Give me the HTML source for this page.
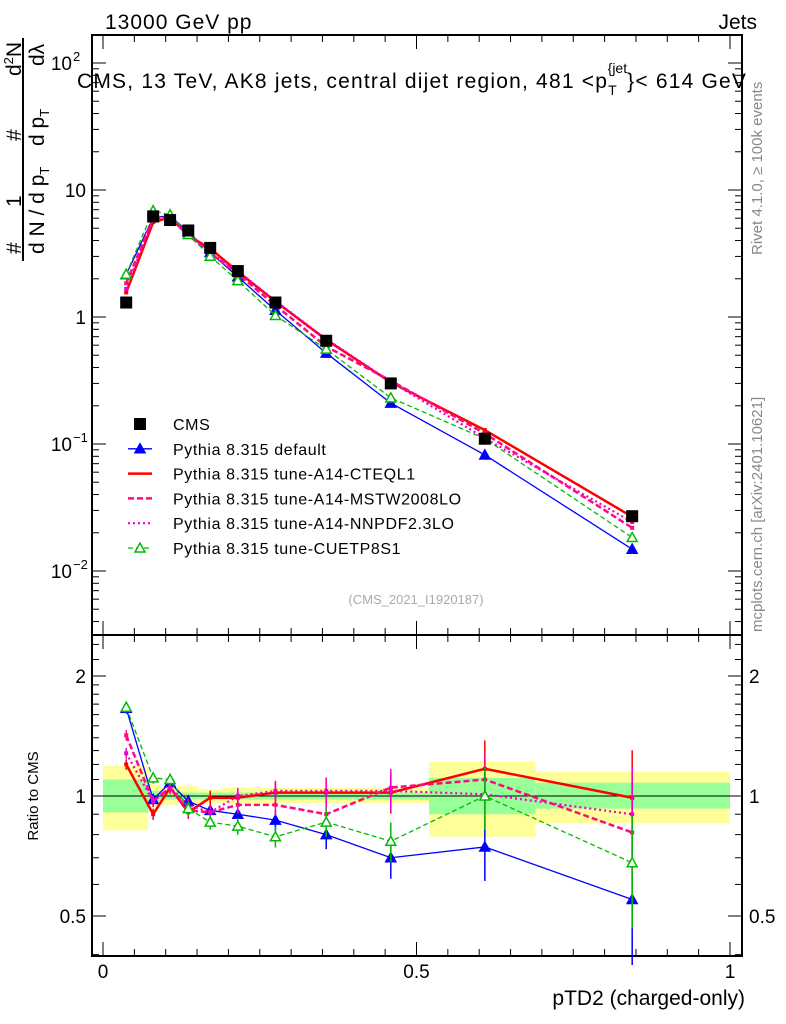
<!DOCTYPE html>
<html><head><meta charset="utf-8"><style>
body{margin:0;background:#fff}
svg{display:block;font-family:"Liberation Sans",sans-serif}
</style></head><body>
<svg id="chart" width="786" height="1024" viewBox="0 0 786 1024" xmlns="http://www.w3.org/2000/svg">
<g id="bandsG"></g>
<g id="axesG"></g>
<g id="seriesG"></g>
<text x="105" y="29" font-size="21" letter-spacing="1">13000 GeV pp</text>
<text x="757" y="29" font-size="21" text-anchor="end">Jets</text>
<text x="77" y="88" font-size="21" letter-spacing="1.2">CMS, 13 TeV, AK8 jets, central dijet region, 481 &lt;p<tspan font-size="14" dy="7" letter-spacing="0">T</tspan><tspan font-size="14" dy="-22" dx="-9" letter-spacing="0">{jet</tspan><tspan dy="15">}&lt; 614 GeV</tspan></text>
<g transform="rotate(-90)" font-size="21">
<text x="-254" y="21">#</text>
<text x="-207" y="21">1</text>
<text x="-254" y="44">d N / d p<tspan font-size="13" dy="5">T</tspan></text>
<text x="-141" y="21">#</text>
<text x="-146" y="44">d p<tspan font-size="13" dy="5">T</tspan></text>
<text x="-76" y="21">d<tspan font-size="13" dy="-8">2</tspan><tspan dy="8">N</tspan></text>
<text x="-66" y="44">dλ</text>
<line x1="-261" y1="23" x2="-38" y2="23" stroke="#000" stroke-width="2"/>
</g>
<text transform="translate(762,255) rotate(-90)" font-size="15" fill="#888">Rivet 4.1.0, ≥ 100k events</text>
<text transform="translate(762,632) rotate(-90)" font-size="15" fill="#888">mcplots.cern.ch [arXiv:2401.10621]</text>
<text x="416" y="604" font-size="13" fill="#aaa" text-anchor="middle">(CMS_2021_I1920187)</text>
<text transform="translate(38,796) rotate(-90)" font-size="15" text-anchor="middle">Ratio to CMS</text>
<text x="745" y="1005" font-size="21" text-anchor="end">pTD2 (charged-only)</text>
<g id="legendG"></g>
</svg>
<script>
var xCenters=[0.037,0.080,0.107,0.136,0.171,0.215,0.275,0.356,0.459,0.609,0.844];
var binEdges=[0,0.072,0.091,0.12,0.152,0.19,0.24,0.31,0.40,0.52,0.69,1.0];
var cmsValues=[1.3,6.2,5.8,4.8,3.5,2.3,1.3,0.65,0.3,0.11,0.027];
var statLo=[0.91,0.97,0.98,0.98,0.98,0.98,0.98,0.98,0.98,0.9,0.93];
var statHi=[1.1,1.03,1.02,1.02,1.02,1.02,1.02,1.02,1.02,1.11,1.08];
var totLo=[0.82,0.93,0.95,0.96,0.96,0.96,0.96,0.96,0.96,0.79,0.855];
var totHi=[1.19,1.07,1.05,1.06,1.04,1.05,1.05,1.05,1.05,1.22,1.15];
var ratioDefault=[1.66,0.98,1.08,0.97,0.92,0.9,0.87,0.8,0.7,0.745,0.55];
var ratioCTEQ=[1.2,0.9,1.05,0.91,0.99,0.99,1.02,1.02,1.02,1.17,0.99];
var ratioMSTW=[1.42,0.97,1.05,0.92,0.91,0.95,0.95,0.9,1.05,1.1,0.81];
var ratioNNPDF=[1.28,0.97,1.05,0.95,0.91,1.0,1.03,1.03,1.03,1.01,0.9];
var ratioCUETP=[1.67,1.11,1.1,0.93,0.86,0.84,0.79,0.86,0.77,1.0,0.68];
var xTicks=[0,0.5,1];
var xTickLabels=["0","0.5","1"];

var SVGNS="http://www.w3.org/2000/svg";
var PL=92,PR=742,PT=35,PMB=635,PRB=956;
function sx(v){return 103+v*627;}
function sy(v){return 317-127*Math.log10(v);}
function sr(v){return 796-120*Math.log(v)/Math.LN2;}
function mk(p,tag,a){var e=document.createElementNS(SVGNS,tag);for(var k in a)e.setAttribute(k,a[k]);p.appendChild(e);return e;}
var gB=document.getElementById('bandsG'),gA=document.getElementById('axesG'),gS=document.getElementById('seriesG'),gL=document.getElementById('legendG');

for(var i=0;i<cmsValues.length;i++){
 var x0=sx(binEdges[i]),x1=sx(binEdges[i+1]);
 var ry=mk(gB,'rect',{x:x0,y:sr(totHi[i]),width:x1-x0,height:sr(totLo[i])-sr(totHi[i]),fill:'#ffff99'});
 
 
 var rg=mk(gB,'rect',{x:x0,y:sr(statHi[i]),width:x1-x0,height:sr(statLo[i])-sr(statHi[i]),fill:'#99ff99'});
 
 
}
mk(gA,'line',{x1:PL,x2:PR,y1:sr(1),y2:sr(1),stroke:'#000','stroke-width':1});
mk(gA,'rect',{x:PL,y:PT,width:PR-PL,height:PMB-PT,fill:'none',stroke:'#000','stroke-width':2});
mk(gA,'rect',{x:PL,y:PMB,width:PR-PL,height:PRB-PMB,fill:'none',stroke:'#000','stroke-width':2});
for(var k=0;k<=20;k++){
 var xv=sx(k*0.05),len=(k%10==0)?14:7;
 [[PMB,PT],[PRB,PMB]].forEach(function(pr){
  mk(gA,'line',{x1:xv,x2:xv,y1:pr[0],y2:pr[0]-len,stroke:'#000'});
  mk(gA,'line',{x1:xv,x2:xv,y1:pr[1],y2:pr[1]+len,stroke:'#000'});
 });
}
xTicks.forEach(function(v,i){
 var t=mk(gA,'text',{x:sx(v),y:978,'font-size':19,'text-anchor':'middle'});t.textContent=xTickLabels[i];
 
 
});
for(var d=-3;d<=2;d++){for(var m=1;m<10;m++){
 var yv=sy(m*Math.pow(10,d));if(yv<PT||yv>PMB)continue;var ln=m==1?14:7;
 mk(gA,'line',{x1:PL,x2:PL+ln,y1:yv,y2:yv,stroke:'#000'});
 mk(gA,'line',{x1:PR,x2:PR-ln,y1:yv,y2:yv,stroke:'#000'});
}}
[[100,'10','2'],[10,'10',''],[1,'1',''],[0.1,'10','−1'],[0.01,'10','−2']].forEach(function(a){
 var t=mk(gA,'text',{x:a[2]?72:86,y:sy(a[0])+7,'font-size':19,'text-anchor':'end'});t.textContent=a[1];
 
 
 if(a[2]){var s=mk(gA,'text',{x:73,y:sy(a[0])-2,'font-size':13});s.textContent=a[2];}
});
var rticks=[];
for(var k2=4;k2<=20;k2++)rticks.push(k2/10);
for(var k3=22;k3<=26;k3+=2)rticks.push(k3/10);
rticks.forEach(function(v){
 var y=sr(v);if(y<PMB||y>PRB)return;
 var maj=Math.abs(v-0.5)<1e-6||Math.abs(v-1)<1e-6||Math.abs(v-2)<1e-6;var ln=maj?14:7;
 mk(gA,'line',{x1:PL,x2:PL+ln,y1:y,y2:y,stroke:'#000'});
 mk(gA,'line',{x1:PR,x2:PR-ln,y1:y,y2:y,stroke:'#000'});
});
[[2,'2'],[1,'1'],[0.5,'0.5']].forEach(function(a){
 var t=mk(gA,'text',{x:86,y:sr(a[0])+7,'font-size':19,'text-anchor':'end'});t.textContent=a[1];
 
 
 var t2=mk(gA,'text',{x:749,y:sr(a[0])+7,'font-size':19});t2.textContent=a[1];
});
var SER=[
 {r:ratioDefault,c:'#0000ff',w:1.3,d:'',m:'tri',f:true,n:'pythia-default',label:'Pythia 8.315 default'},
 {r:ratioCTEQ,c:'#ff0000',w:2.5,d:'',m:'none',n:'pythia-a14-cteql1',label:'Pythia 8.315 tune-A14-CTEQL1'},
 {r:ratioMSTW,c:'#ff0a80',w:2.5,d:'6,3',m:'none',n:'pythia-a14-mstw2008lo',label:'Pythia 8.315 tune-A14-MSTW2008LO'},
 {r:ratioNNPDF,c:'#ee00cc',w:2.2,d:'2,3',m:'none',n:'pythia-a14-nnpdf23lo',label:'Pythia 8.315 tune-A14-NNPDF2.3LO'},
 {r:ratioCUETP,c:'#00bb00',w:1.3,d:'5,3',m:'tri',f:false,n:'pythia-cuetp8s1',label:'Pythia 8.315 tune-CUETP8S1'}];
function tri(p,x,y,c,f){return mk(p,'path',{d:'M'+(x-5)+','+(y+4)+'L'+(x+5)+','+(y+4)+'L'+x+','+(y-5)+'Z',fill:f?c:'#fff',stroke:c,'stroke-width':1.5});}
SER.forEach(function(s){
 var g=mk(gS,'g',{});
 
 
 var pm=xCenters.map(function(x,i){return sx(x)+','+sy(cmsValues[i]*s.r[i]);}).join(' ');
 var prr=xCenters.map(function(x,i){return sx(x)+','+sr(s.r[i]);}).join(' ');
 mk(g,'polyline',{points:pm,fill:'none',stroke:s.c,'stroke-width':s.w,'stroke-dasharray':s.d});
 mk(g,'polyline',{points:prr,fill:'none',stroke:s.c,'stroke-width':s.w,'stroke-dasharray':s.d});
 xCenters.forEach(function(x,i){
  var e=0.03+0.4*x*x;
  mk(g,'line',{x1:sx(x),x2:sx(x),y1:sr(s.r[i]*(1-e)),y2:sr(s.r[i]*(1+e)),stroke:s.c,'stroke-width':1.5});
  if(s.m=='tri'){
   var t=tri(g,sx(x),sy(cmsValues[i]*s.r[i]),s.c,s.f);
   
   
   tri(g,sx(x),sr(s.r[i]),s.c,s.f);
  } else {
   mk(g,'rect',{x:sx(x)-2,y:sy(cmsValues[i]*s.r[i])-2,width:4,height:4,fill:s.c});
   mk(g,'rect',{x:sx(x)-2,y:sr(s.r[i])-2,width:4,height:4,fill:s.c});
  }
 });
});
var cg=mk(gS,'g',{});


xCenters.forEach(function(x,i){
 var r=mk(cg,'rect',{x:sx(x)-6,y:sy(cmsValues[i])-6,width:12,height:12,fill:'#000'});
 
 
});
var ly0=424,ldy=24.8;
var e0=mk(gL,'g',{});


mk(e0,'rect',{x:134,y:ly0-6,width:12,height:12,fill:'#000'});
var t0=mk(e0,'text',{x:173,y:ly0+6,'font-size':16,'letter-spacing':0.6});t0.textContent='CMS';
SER.forEach(function(s,k){
 var y=ly0+ldy*(k+1);var g=mk(gL,'g',{});
 
 
 mk(g,'line',{x1:128,x2:152,y1:y,y2:y,stroke:s.c,'stroke-width':s.w,'stroke-dasharray':s.d});
 if(s.m=='tri')tri(g,140,y,s.c,s.f);
 var t=mk(g,'text',{x:173,y:y+6,'font-size':16,'letter-spacing':0.6});t.textContent=s.label;
});
</script>
</body></html>
